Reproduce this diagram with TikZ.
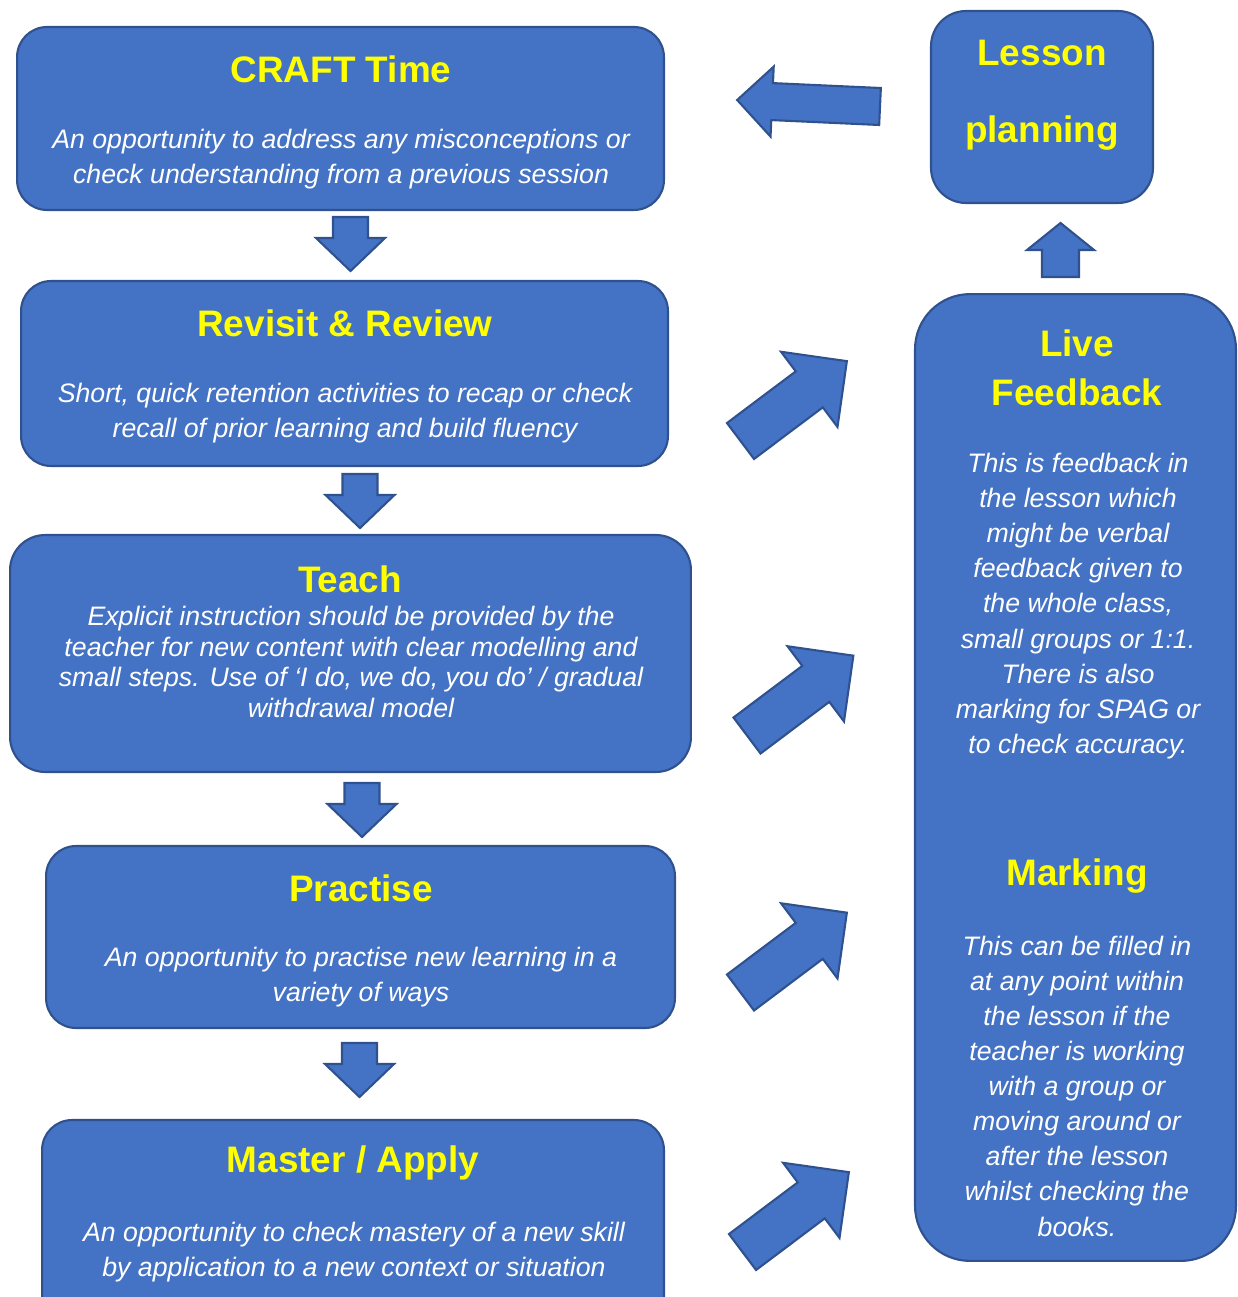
\documentclass[tikz,border=0pt]{standalone}
\usepackage{fontspec}
\setmainfont{Liberation Sans}
\definecolor{boxblue}{HTML}{4472C4}
\definecolor{edgeblue}{HTML}{2F528F}
\definecolor{titleyellow}{HTML}{FFFF00}

\begin{document}
\begin{tikzpicture}[x=0.02cm, y=-0.02cm,
    stage/.style={draw=edgeblue, fill=boxblue, line width=1.2pt, rounded corners=0.6cm},
    heading/.style={text=titleyellow, font=\fontsize{21}{28}\selectfont\bfseries, align=center},
    blurb/.style={text=white, font=\fontsize{15.2}{20}\selectfont\itshape, align=center},
    arrowshape/.style={draw=edgeblue, fill=boxblue, line width=1.2pt, line join=miter},
    pics/blockarrow/.style args={#1/#2/#3/#4}{code={
      \draw[arrowshape] (0,-#2) -- (#1-#4,-#2) -- (#1-#4,-#3) -- (#1,0)
        -- (#1-#4,#3) -- (#1-#4,#2) -- (0,#2) -- cycle;}}]
      \useasboundingbox (0,0) rectangle (1237,1297);
      \clip (0,0) rectangle (1237,1297);
      % left column
      \node[stage, minimum width=12.94cm, minimum height=3.66cm] (craft) at (340.5,118.5) {};
      \node[stage, minimum width=12.94cm, minimum height=3.70cm] (revisit) at (344.5,373.5) {};
      \node[stage, minimum width=13.62cm, minimum height=4.74cm, rounded corners=0.7cm] (teach) at (350.5,653.5) {};
      \node[stage, minimum width=12.58cm, minimum height=3.64cm] (practise) at (360.5,937) {};
      \node[stage, minimum width=12.44cm, minimum height=4.80cm] (master) at (353,1240) {};
      % right column
      \node[stage, minimum width=4.44cm, minimum height=3.84cm, rounded corners=0.7cm] (lesson) at (1042,107) {};
      \node[stage, minimum width=6.42cm, minimum height=19.34cm, rounded corners=1.1cm] (feedback) at (1075.5,777.5) {};

      \node[heading] (craft title) at (341,69) {CRAFT Time};
      \node[blurb] (craft text) at (341,159.5) {An opportunity to address any misconceptions or\\check understanding from a previous session};
      \node[heading] (revisit title) at (345,323) {Revisit \& Review};
      \node[blurb] (revisit text) at (345,413.5) {Short, quick retention activities to recap or check\\recall of prior learning and build fluency};
      \node[heading] (teach title) at (350,579) {Teach};
      \node[blurb, font=\fontsize{15.2}{17.5}\selectfont\itshape] (teach text) at (351,662) {Explicit instruction should be provided by the\\teacher for new content with clear modelling and\\small steps. Use of ‘I do, we do, you do’ / gradual\\withdrawal model};
      \node[heading] (practise title) at (361,888) {Practise};
      \node[blurb] (practise text) at (361,977) {An opportunity to practise new learning in a\\variety of ways};
      \node[heading] (master title) at (353,1163) {Master / Apply};
      \node[blurb] (master text) at (354,1252.5) {An opportunity to check mastery of a new skill\\by application to a new context or situation};

      \node[heading, font=\fontsize{21}{43.8}\selectfont\bfseries] (lesson title) at (1042,95.5) {Lesson\\planning};
      \node[heading] (live title) at (1077,368) {Live\\Feedback};
      \node[blurb] (live text) at (1078,606) {This is feedback in\\the lesson which\\might be verbal\\feedback given to\\the whole class,\\small groups or 1:1.\\There is also\\marking for SPAG or\\to check accuracy.};
      \node[heading] (marking title) at (1077,876) {Marking};
      \node[blurb] (marking text) at (1077,1086) {This can be filled in\\at any point within\\the lesson if the\\teacher is working\\with a group or\\moving around or\\after the lesson\\whilst checking the\\books.};

      % block arrows
      \pic[rotate=-90] at (350.5,217) {blockarrow=54/17.5/34.5/33};
      \pic[rotate=-90] at (360,474) {blockarrow=54/17.5/34.5/33};
      \pic[rotate=-90] at (362,783) {blockarrow=54/17.5/34.5/33};
      \pic[rotate=-90] at (359.5,1043) {blockarrow=54/17.5/34.5/33};
      \pic[rotate=90] at (1060.5,277) {blockarrow=54/18.5/33.5/27};
      \pic[rotate=177.4] at (880,106.5) {blockarrow=143/18.5/35/35};
      \pic[rotate=36.9] at (740.5,441) {blockarrow=133/22.5/47/47};
      \pic[rotate=36.9] at (747,735.5) {blockarrow=133/22.5/47/47};
      \pic[rotate=36.9] at (740.5,992.5) {blockarrow=133/22.5/47/47};
      \pic[rotate=36.9] at (742.5,1252) {blockarrow=133/22.5/47/47};
    \end{tikzpicture}
\end{document}
